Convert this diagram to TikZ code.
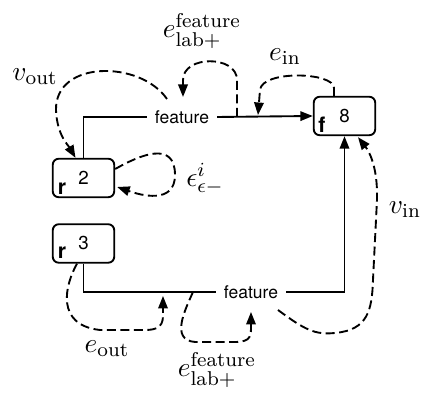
\documentclass[tikz,border=0pt]{standalone}
\usepackage{amsmath}
\usepackage{fontspec}
\setsansfont{TeX Gyre Heros}
\usepackage{tikz}
\usetikzlibrary{arrows.meta,calc}
\tikzset{
  ln/.style={line width=0.75pt},
  ar/.style={ln,-{Triangle[length=5pt,width=3.8pt]}},
  da/.style={ar,dash pattern=on 3.6pt off 1.8pt},
  box/.style={draw,line width=0.75pt,rounded corners=2.4pt,minimum width=24.6pt,minimum height=15.4pt,inner sep=0pt,font=\fontsize{7.5}{8}\sffamily},
  tag/.style={font=\fontsize{8.5}{9}\sffamily\bfseries,inner sep=0pt},
  ft/.style={font=\fontsize{7}{8}\sffamily,inner xsep=3pt,inner ysep=1pt},
  lb/.style={inner sep=0pt,font=\fontsize{10.95}{13}\selectfont}
}
\begin{document}
\begin{tikzpicture}[x=0.4pt,y=-0.4pt]
\useasboundingbox (0,0) rectangle (436,404);
% boxes
\node[box] (r2) at (83.5,178) {2};
\node[box] (r3) at (83.5,243.5) {3};
\node[box] (f8) at (344.5,116) {8};
\node[tag] (r2t) at (62,188.5) {r};
\node[tag] (r3t) at (62,252.5) {r};
\node[tag] (f8t) at (322,124.5) {f};
% edges
\node[ft] (ftop) at (182,117) {feature};
\node[ft] (fbot) at (251,292) {feature};
\draw[ln] (r2.north) |- (ftop.west);
\draw[ar] (ftop.east) -- (f8.west);
\draw[ln] (r3.south) |- (fbot.west);
\draw[ar] (fbot.east) -| (f8.south);
\coordinate (t1) at (237,117);
\coordinate (t2) at (193,292);
\coordinate (t3) at (258,117);
\coordinate (t4) at (163,292);
% dashed maps
\draw[da] ([shift={(-15,-18)}]ftop.center) .. controls (140,60) and (55,60) .. (56,110)
  .. controls (57,135) and (68,145) .. ([shift={(-8,0)}]r2.north);
\draw[da] (t1) -- (237,80) .. controls (237,55) and (183,55) .. (183,80) -- ([shift={(1,-20)}]ftop.center);
\draw[da] ([shift={(-10.5,0)}]f8.north) -- (334,88) .. controls (334,72) and (262,70) .. (260,90)
  -- ([shift={(0,-2)}]t3);
\draw[da] ([shift={(0,-9)}]r2.east) .. controls (140,155) and (175,140) .. (175,175)
  .. controls (175,205) and (140,195) .. ([shift={(2,9)}]r2.east);
\draw[da] ([shift={(27,18)}]fbot.center) .. controls (305,330) and (315,335) .. (335,333)
  .. controls (368,330) and (372,310) .. (373,280) -- (377,200)
  .. controls (378,165) and (368,150) .. ([shift={(13.5,1)}]f8.south);
\draw[da] ([shift={(-6.5,0)}]r3.south) .. controls (65,285) and (55,325) .. (100,330) -- (145,330)
  .. controls (165,330) and (163,320) .. ([shift={(0,4)}]t4);
\draw[da] (t2) .. controls (185,310) and (170,340) .. (195,342) -- (235,342)
  .. controls (252,342) and (251,335) .. ([shift={(0,20)}]fbot.center);
% labels
\node[lb] (vout) at (35,77) {$v_{\mathrm{out}}$};
\node[lb] (elab1) at (202,31) {$e^{\mathrm{feature}}_{\mathrm{lab}+}$};
\node[lb] (ein) at (285,57) {$e_{\mathrm{in}}$};
\node[lb] (eps) at (205,179) {$\epsilon^i_{\epsilon-}$};
\node[lb] (vin) at (405,210) {$v_{\mathrm{in}}$};
\node[lb] (eout) at (107,349) {$e_{\mathrm{out}}$};
\node[lb] (elab2) at (217,370) {$e^{\mathrm{feature}}_{\mathrm{lab}+}$};
\end{tikzpicture}
\end{document}
